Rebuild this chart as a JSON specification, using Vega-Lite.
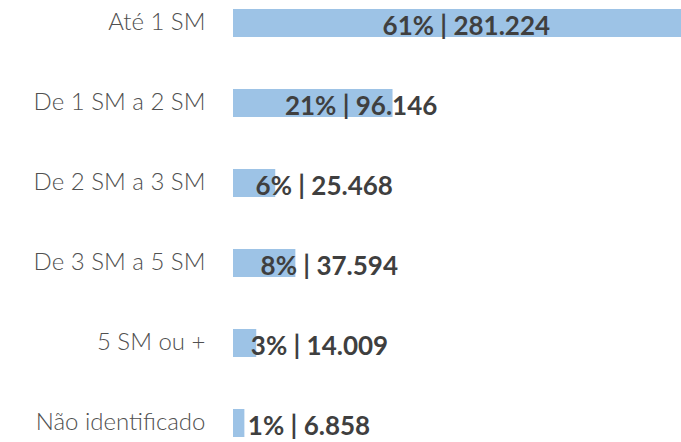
{
  "$schema": "https://vega.github.io/schema/vega-lite/v6.json",
  "width": 448,
  "height": 446,
  "autosize": {"type": "none"},
  "padding": {"left": 233, "top": 0, "right": 0, "bottom": 0},
  "background": "white",
  "config": {"view": {"stroke": null}, "font": "Lato"},
  "data": {
    "values": [
      {"faixa": "Até 1 SM", "pct": 61, "valor": 281224},
      {"faixa": "De 1 SM a 2 SM", "pct": 21, "valor": 96146},
      {"faixa": "De 2 SM a 3 SM", "pct": 6, "valor": 25468},
      {"faixa": "De 3 SM a 5 SM", "pct": 8, "valor": 37594},
      {"faixa": "5 SM ou +", "pct": 3, "valor": 14009},
      {"faixa": "Não identificado", "pct": 1, "valor": 6858}
    ]
  },
  "transform": [
    {"calculate": "datum.pct + '% | ' + replace(format(datum.valor, ','), ',', '.')", "as": "rotulo"},
    {"calculate": "datum.valor / 2", "as": "meio"},
    {"calculate": "datum.valor / 4", "as": "quarto"}
  ],
  "encoding": {
    "y": {
      "field": "faixa",
      "type": "nominal",
      "sort": null,
      "scale": {"paddingInner": 0.65, "paddingOuter": 0.1125},
      "axis": {
        "title": null,
        "domain": false,
        "ticks": false,
        "labelPadding": 28,
        "labelFontSize": 24,
        "labelFont": "Lato",
        "labelFontWeight": 300,
        "labelColor": "#505050",
        "labelLimit": 300
      }
    }
  },
  "layer": [
    {
      "mark": {"type": "bar", "color": "#9DC3E6", "clip": true},
      "encoding": {
        "x": {"field": "valor", "type": "quantitative", "scale": {"domain": [0, 270000], "nice": false}, "axis": null}
      }
    },
    {
      "transform": [{"filter": "datum.pct >= 50"}],
      "mark": {"type": "text", "align": "center", "baseline": "middle", "dy": 4, "fontSize": 26, "fontWeight": "bold", "color": "#3f3f3f", "font": "Lato"},
      "encoding": {
        "x": {"field": "meio", "type": "quantitative"},
        "text": {"field": "rotulo"}
      }
    },
    {
      "transform": [{"filter": "datum.pct < 50"}],
      "mark": {"type": "text", "align": "left", "baseline": "middle", "dx": 12, "dy": 4, "fontSize": 26, "fontWeight": "bold", "color": "#3f3f3f", "font": "Lato"},
      "encoding": {
        "x": {"field": "quarto", "type": "quantitative"},
        "text": {"field": "rotulo"}
      }
    }
  ]
}
